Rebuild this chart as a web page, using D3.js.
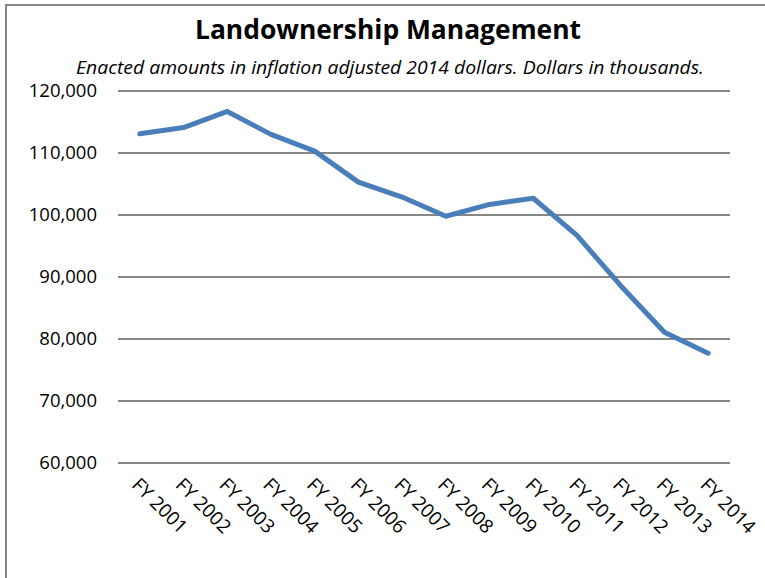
<!DOCTYPE html>
<html>
<head>
<meta charset="utf-8">
<script src="https://cdn.jsdelivr.net/npm/d3@7"></script>
<style>
	body { margin: 0; background: #fff; }
	text { font-family: "Open Sans", "Noto Sans", sans-serif; fill: #000; }
</style>
</head>
<body>
<div id="chart"></div>
<script>
// chart data
var years = ['FY 2001', 'FY 2002', 'FY 2003', 'FY 2004', 'FY 2005', 'FY 2006', 'FY 2007',
	'FY 2008', 'FY 2009', 'FY 2010', 'FY 2011', 'FY 2012', 'FY 2013', 'FY 2014'];
var amounts = [113100, 114100, 116700, 113000, 110300, 105300, 102900,
	99800, 101700, 102700, 96700, 88600, 81100, 77700];
var yTicks = [60000, 70000, 80000, 90000, 100000, 110000, 120000];

var W = 765, H = 578;
var plot = {left: 118, right: 730, top: 91, bottom: 463};

var svg = d3.select('#chart').append('svg').attr('width', W).attr('height', H);

// frame (left and top edge only show)
svg.append('path')
	.attr('d', 'M6,' + H + 'V5H' + W)
	.attr('fill', 'none')
	.attr('stroke', '#878787')
	.attr('stroke-width', 2);

var x = d3.scaleBand().domain(years).range([plot.left, plot.right]);
var y = d3.scaleLinear().domain([60000, 120000]).range([plot.bottom, plot.top]);

// gridlines
svg.append('g').selectAll('line')
	.data(yTicks)
	.join('line')
	.attr('x1', plot.left).attr('x2', plot.right)
	.attr('y1', d => y(d)).attr('y2', d => y(d))
	.attr('stroke', '#878787')
	.attr('stroke-width', 2);

// y labels
svg.append('g').selectAll('text')
	.data(yTicks)
	.join('text')
	.attr('x', 97)
	.attr('y', d => y(d))
	.attr('dy', '0.35em')
	.attr('text-anchor', 'end')
	.style('font-size', '18.5px')
	.text(d3.format(','));

// x labels, rotated
svg.append('g').selectAll('text')
	.data(years)
	.join('text')
	.attr('transform', d => 'translate(' + (x(d) + x.bandwidth() / 2 - 9) + ',486) rotate(45)')
	.attr('text-anchor', 'start')
	.style('font-size', '19px')
	.text(d => d);

// the line
var line = d3.line()
	.x((d, i) => x(years[i]) + x.bandwidth() / 2)
	.y(d => y(d));

svg.append('path')
	.datum(amounts)
	.attr('d', line)
	.attr('fill', 'none')
	.attr('stroke', '#4a7ebb')
	.attr('stroke-width', 5)
	.attr('stroke-linejoin', 'round')
	.attr('stroke-linecap', 'round');

// titles
svg.append('text')
	.attr('x', 388).attr('y', 39)
	.attr('text-anchor', 'middle')
	.attr('textLength', 386)
	.attr('lengthAdjust', 'spacingAndGlyphs')
	.style('font-size', '26px')
	.style('font-weight', 'bold')
	.text('Landownership Management');

svg.append('text')
	.attr('x', 390).attr('y', 74)
	.attr('text-anchor', 'middle')
	.attr('textLength', 628)
	.attr('lengthAdjust', 'spacingAndGlyphs')
	.style('font-size', '18px')
	.style('font-style', 'italic')
	.text('Enacted amounts in inflation adjusted 2014 dollars. Dollars in thousands.');
</script>
</body>
</html>
